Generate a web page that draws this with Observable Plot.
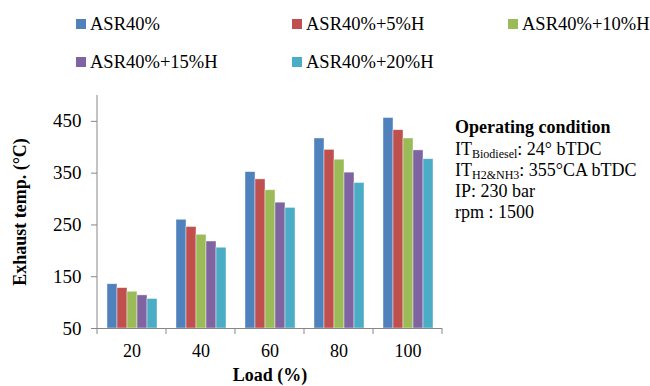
<!DOCTYPE html>
<html><head><meta charset="utf-8">
<script src="https://cdn.jsdelivr.net/npm/d3@7"></script>
<script src="https://cdn.jsdelivr.net/npm/@observablehq/plot@0.6"></script>
<style>
body{margin:0;background:#fff;font-family:"Liberation Serif","Times New Roman",serif;}
#wrap{position:relative;width:650px;height:386px;overflow:hidden;background:#fff;}
#legend{position:absolute;left:0;top:0;width:650px;height:90px;}
.item{position:absolute;display:flex;align-items:center;height:24px;font-size:18.5px;white-space:nowrap;color:#000;}
.sw{width:10px;height:10px;margin-right:4px;flex:none;}
#chart{position:absolute;left:0;top:90px;}
#note{position:absolute;left:455px;top:117px;font-size:18px;color:#000;}
#note div{height:21px;line-height:21px;white-space:nowrap;}
#note sub{font-size:12px;vertical-align:-3px;line-height:0;}
</style>
</head><body>
<div id="wrap">
  <div id="legend"></div>
  <div id="chart"></div>
  <div id="note">
    <div style="font-weight:bold;height:22px;">Operating condition</div>
    <div>IT<sub>Biodiesel</sub>: 24° bTDC</div>
    <div>IT<sub>H2&amp;NH3</sub>: 355°CA bTDC</div>
    <div>IP: 230 bar</div>
    <div>rpm : 1500</div>
  </div>
</div>
<script>
const loads = ["20", "40", "60", "80", "100"];
const series = ["ASR40%", "ASR40%+5%H", "ASR40%+10%H", "ASR40%+15%H", "ASR40%+20%H"];
const colors = ["#4F81BD", "#C0504D", "#9BBB59", "#8064A2", "#4BACC6"];
const asr40 = [135.5, 260, 352, 417, 456.5];
const asr40h5 = [128, 246, 338, 395, 433];
const asr40h10 = [121, 231, 317, 376, 417];
const asr40h15 = [114, 218, 293, 351, 394];
const asr40h20 = [107, 206, 283, 331, 377];
const yTicks = [50, 150, 250, 350, 450];
const yDomain = [50, 500];

const seriesValues = [asr40, asr40h5, asr40h10, asr40h15, asr40h20];
const data = [];
loads.forEach((load, i) => series.forEach((s, j) => data.push({load, series: s, value: seriesValues[j][i]})));

// legend
const legend = document.getElementById("legend");
series.forEach((s, i) => {
  const it = document.createElement("div");
  it.className = "item";
  it.style.left = (76 + (i % 3) * 216) + "px";
  it.style.top = (12 + Math.floor(i / 3) * 38) + "px";
  const sw = document.createElement("span");
  sw.className = "sw";
  sw.style.background = colors[i];
  it.appendChild(sw);
  it.appendChild(document.createTextNode(s));
  legend.appendChild(it);
});

const axisColor = "#878787";
const chart = Plot.plot({
  width: 650,
  height: 296,
  marginTop: 5,
  marginBottom: 58,
  marginLeft: 96,
  marginRight: 207,
  style: {fontFamily: "'Liberation Serif','Times New Roman',serif", fontSize: "18px", color: "#000", background: "transparent", overflow: "visible"},
  fx: {domain: loads, padding: 0, axis: null},
  x: {domain: series, paddingInner: 0, paddingOuter: 0.76, axis: null},
  y: {domain: yDomain},
  color: {domain: series, range: colors},
  marks: [
    Plot.barY(data, {fx: "load", x: "series", y1: yDomain[0], y2: "value", fill: "series", stroke: "white", strokeOpacity: 0.6, strokeWidth: 0.7}),
    Plot.ruleY([yDomain[0]], {stroke: axisColor}),
    Plot.axisY({ticks: yTicks, tickSize: 6, tickPadding: 10, fontSize: 19, stroke: axisColor, label: null}),
    Plot.axisY({ticks: [], tickSize: 0, label: "Exhaust temp. (°C)", labelAnchor: "center", labelArrow: "none", labelOffset: 84, fontSize: 18}),
    Plot.axisFx({anchor: "bottom", tickSize: 0, tickPadding: 16, label: "Load (%)", labelAnchor: "center", labelArrow: "none", labelOffset: 52})
  ]
});
document.getElementById("chart").appendChild(chart);

// bold axis labels
chart.querySelectorAll('g[aria-label$="axis label"]').forEach(g => g.setAttribute("font-weight", "bold"));

// axis line and category boundary ticks (Excel style), from the scales
const fx = chart.scale("fx"), ys = chart.scale("y");
const svg = d3.select(chart.tagName.toLowerCase() === "svg" ? chart : chart.querySelector("svg"));
const g = svg.append("g").attr("stroke", axisColor).attr("stroke-width", 1);
const x0 = fx.apply(loads[0]);
g.append("line").attr("x1", x0).attr("x2", x0).attr("y1", ys.apply(yDomain[1])).attr("y2", ys.apply(yDomain[0]));
const bounds = loads.map(l => fx.apply(l)).concat([fx.apply(loads[loads.length - 1]) + fx.bandwidth]);
bounds.forEach(b => g.append("line").attr("x1", b).attr("x2", b).attr("y1", ys.apply(yDomain[0])).attr("y2", ys.apply(yDomain[0]) + 6));
</script>
</body></html>
